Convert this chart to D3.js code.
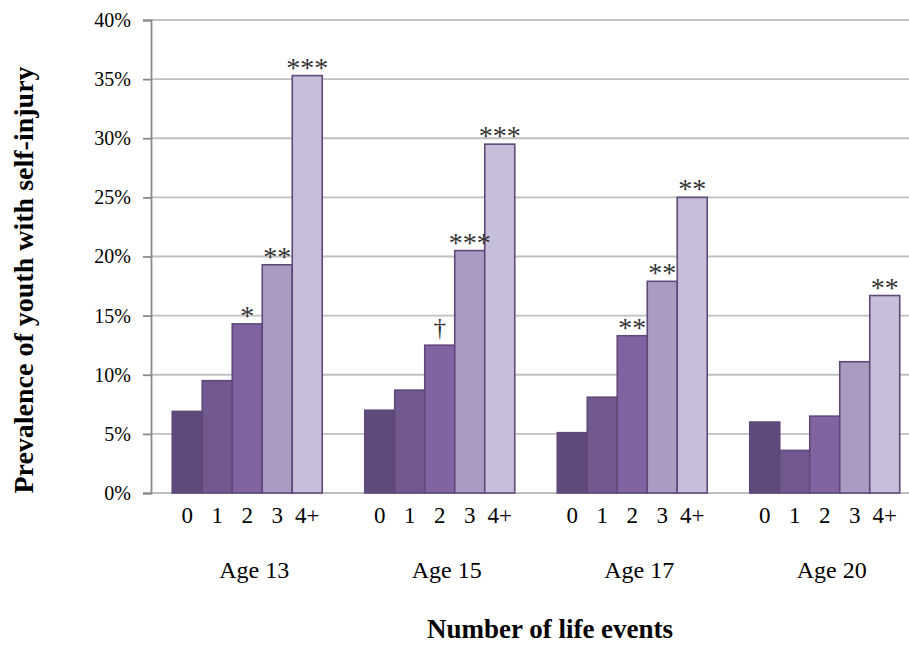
<!DOCTYPE html>
<html>
<head>
<meta charset="utf-8">
<script src="https://cdn.jsdelivr.net/npm/d3@7"></script>
<style>
  html, body { margin: 0; padding: 0; background: #fff; }
  svg { display: block; font-family: "Liberation Serif", "Times New Roman", serif; }
</style>
</head>
<body>
<svg id="chart" width="909" height="645"></svg>
<script>
// ---- data ----
const ages = ["Age 13", "Age 15", "Age 17", "Age 20"];
const events = ["0", "1", "2", "3", "4+"];
const age13 = [6.9, 9.5, 14.3, 19.3, 35.3];
const age15 = [7.0, 8.7, 12.5, 20.5, 29.5];
const age17 = [5.1, 8.1, 13.3, 17.9, 25.0];
const age20 = [6.0, 3.6, 6.5, 11.1, 16.7];
const sig13 = ["", "", "*", "**", "***"];
const sig15 = ["", "", "†", "***", "***"];
const sig17 = ["", "", "**", "**", "**"];
const sig20 = ["", "", "", "", "**"];
const yTicks = [0, 5, 10, 15, 20, 25, 30, 35, 40];
const yTitle = "Prevalence of youth with self-injury";
const xTitle = "Number of life events";

const seriesValues = [age13, age15, age17, age20];
const seriesSig = [sig13, sig15, sig17, sig20];
const colors = ["#5f4a7b", "#71588f", "#8064a2", "#a99bc1", "#c7bed9"];

const rows = [];
ages.forEach((a, i) => events.forEach((e, j) => rows.push({age: a, ev: e, j, v: seriesValues[i][j], sig: seriesSig[i][j]})));

const svg = d3.select("#chart");
const plotLeft = 151, plotRight = 921, plotTop = 20, plotBottom = 493;

const y = d3.scaleLinear().domain([0, 40]).range([plotBottom, plotTop]);
const x0 = d3.scaleBand().domain(ages).range([plotLeft, plotRight]).paddingInner(0.2208).paddingOuter(0.1104);
const x1 = d3.scaleBand().domain(events).range([0, x0.bandwidth()]).padding(0);

// gridlines
svg.append("g").selectAll("line").data(yTicks).join("line")
  .attr("x1", plotLeft).attr("x2", plotRight)
  .attr("y1", d => y(d)).attr("y2", d => y(d))
  .attr("stroke", "#c0c0c0").attr("stroke-width", 1.8);

// y axis
const yAxis = svg.append("g").attr("transform", `translate(${plotLeft},0)`)
  .call(d3.axisLeft(y).tickValues(yTicks).tickFormat(d => d + "%").tickSize(8).tickPadding(12));
yAxis.select(".domain").attr("stroke", "#8a8a8a").attr("stroke-width", 1.8);
yAxis.selectAll(".tick line").attr("stroke", "#8a8a8a").attr("stroke-width", 1.8);
yAxis.selectAll(".tick text").attr("font-size", 20).attr("fill", "#000")
  .attr("font-family", "Liberation Serif, Times New Roman, serif");

// bars
const bars = svg.append("g");
bars.selectAll("rect").data(rows).join("rect")
  .attr("x", d => x0(d.age) + x1(d.ev))
  .attr("width", x1.bandwidth())
  .attr("y", d => y(d.v))
  .attr("height", d => y(0) - y(d.v))
  .attr("fill", d => colors[d.j])
  .attr("stroke", "#5f497a").attr("stroke-width", 1.6);

// significance marks
svg.append("g").selectAll("text").data(rows.filter(d => d.sig)).join("text")
  .attr("x", d => x0(d.age) + x1(d.ev) + x1.bandwidth() / 2)
  .attr("y", d => d.sig === "†" ? y(d.v) - 9 : y(d.v) + 1)
  .attr("text-anchor", "middle")
  .attr("font-size", d => d.sig === "†" ? 25 : 28)
  .attr("fill", "#333")
  .text(d => d.sig);

// event tick labels
svg.append("g").selectAll("text").data(rows).join("text")
  .attr("x", d => x0(d.age) + x1(d.ev) + x1.bandwidth() / 2)
  .attr("y", 523)
  .attr("text-anchor", "middle").attr("font-size", 23).attr("fill", "#000")
  .text(d => d.ev);

// age labels
svg.append("g").selectAll("text").data(ages).join("text")
  .attr("x", d => x0(d) + x0.bandwidth() / 2 + 7)
  .attr("y", 578)
  .attr("text-anchor", "middle").attr("font-size", 24).attr("fill", "#000")
  .text(d => d);

// axis titles
svg.append("text")
  .attr("x", 550).attr("y", 638)
  .attr("text-anchor", "middle").attr("font-size", 27).attr("font-weight", "bold").attr("fill", "#000")
  .text(xTitle);

svg.append("text")
  .attr("transform", "translate(33,280) rotate(-90)")
  .attr("text-anchor", "middle").attr("font-size", 28).attr("font-weight", "bold").attr("fill", "#000")
  .text(yTitle);
</script>
</body>
</html>
